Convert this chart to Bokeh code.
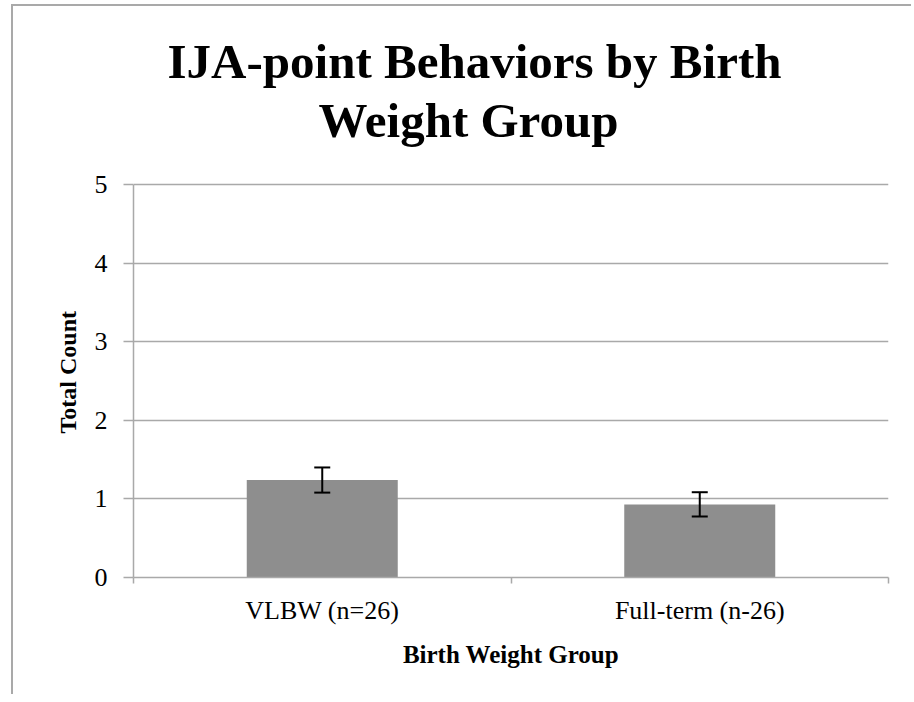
from bokeh.plotting import figure
from bokeh.models import (Range1d, FixedTicker, ColumnDataSource, Whisker,
                          TeeHead, Label, Title)
from bokeh.embed import file_html
from bokeh.resources import INLINE

# ---- data ----
categories = ["VLBW (n=26)", "Full-term (n-26)"]
means = [1.24, 0.93]
errors = [0.16, 0.155]
y_ticks = [0, 1, 2, 3, 4, 5]
title_lines = ["IJA-point Behaviors by Birth", "Weight Group"]
x_title = "Birth Weight Group"
y_title = "Total Count"

FONT = "Liberation Serif"
GRAY = "#a9a9a9"

# ---- layout (canvas pixels) ----
W, H = 900, 690
FRAME_LEFT, FRAME_RIGHT = 120, 875
FRAME_TOP = 16          # frame extended upward to hold the title
Y0_PX, Y5_PX = 571, 178  # where 0 and 5 sit on the canvas
y_top = y_ticks[-1] * (Y0_PX - FRAME_TOP) / (Y0_PX - Y5_PX)

xs = [i + 0.5 for i in range(len(categories))]
source = ColumnDataSource(dict(
    x=xs,
    top=means,
    upper=[m + e for m, e in zip(means, errors)],
    lower=[m - e for m, e in zip(means, errors)],
))

p = figure(width=W, height=H,
           x_range=Range1d(0, len(categories)), y_range=Range1d(y_ticks[0], y_top),
           output_backend="svg", toolbar_location=None,
           min_border_left=FRAME_LEFT, min_border_right=W - FRAME_RIGHT,
           min_border_top=FRAME_TOP, min_border_bottom=H - Y0_PX)
p.styles = {"border-left": "2px solid #a9a9a9", "border-top": "2px solid #a9a9a9",
            "margin-left": "11px", "margin-top": "4px"}
p.outline_line_color = None
p.background_fill_color = "white"
p.border_fill_color = "white"

p.vbar(x="x", top="top", bottom=0, width=0.4, source=source,
       fill_color="#8e8e8e", line_color=None)

p.add_layout(Whisker(source=source, base="x", upper="upper", lower="lower",
                     dimension="height", line_color="black", line_width=2,
                     level="overlay",
                     upper_head=TeeHead(size=16, line_width=2, line_color="black"),
                     lower_head=TeeHead(size=16, line_width=2, line_color="black")))

# x axis
xa = p.xaxis[0]
xa.ticker = FixedTicker(ticks=xs, minor_ticks=list(range(len(categories) + 1)))
xa.major_label_overrides = {x: c for x, c in zip(xs, categories)}
xa.major_tick_out = 0
xa.major_tick_in = 0
xa.minor_tick_out = 6
xa.minor_tick_in = 0
xa.minor_tick_line_color = GRAY
xa.minor_tick_line_width = 1.5
xa.axis_line_color = GRAY
xa.axis_line_width = 1.5
xa.major_label_standoff = 12
xa.major_label_text_font = FONT
xa.major_label_text_font_size = "26px"
xa.major_label_text_color = "black"
xa.axis_label = x_title
xa.axis_label_text_font = FONT
xa.axis_label_text_font_style = "bold"
xa.axis_label_text_font_size = "25px"
xa.axis_label_text_color = "black"
xa.axis_label_standoff = 13

# y axis
ya = p.yaxis[0]
ya.ticker = FixedTicker(ticks=y_ticks)
ya.bounds = (y_ticks[0], y_ticks[-1])
ya.major_tick_out = 10
ya.major_tick_in = 0
ya.minor_tick_out = 0
ya.minor_tick_in = 0
ya.major_tick_line_color = GRAY
ya.major_tick_line_width = 1.5
ya.axis_line_color = GRAY
ya.axis_line_width = 1.5
ya.major_label_standoff = 16
ya.major_label_text_font = FONT
ya.major_label_text_font_size = "26px"
ya.major_label_text_color = "black"

# y-axis title, placed along the 0..5 span (not the whole frame)
p.add_layout(Title(text=y_title, align="left", offset=144, standoff=22,
                   text_font=FONT, text_font_style="bold",
                   text_font_size="24px", text_color="black"), "left")

p.xgrid.visible = False
p.ygrid.ticker = FixedTicker(ticks=y_ticks)
p.ygrid.grid_line_color = GRAY
p.ygrid.grid_line_width = 1.5

# chart title (two centred lines), screen px from the frame's bottom-left
for txt, cx, by in [(title_lines[0], 341, 516), (title_lines[1], 335, 457)]:
    p.add_layout(Label(x=cx, y=by, x_units="screen", y_units="screen", text=txt,
                       text_align="center", text_baseline="alphabetic",
                       text_font=FONT, text_font_style="bold",
                       text_font_size="49px", text_color="black"))

open("out.html", "w").write(file_html(p, INLINE))
